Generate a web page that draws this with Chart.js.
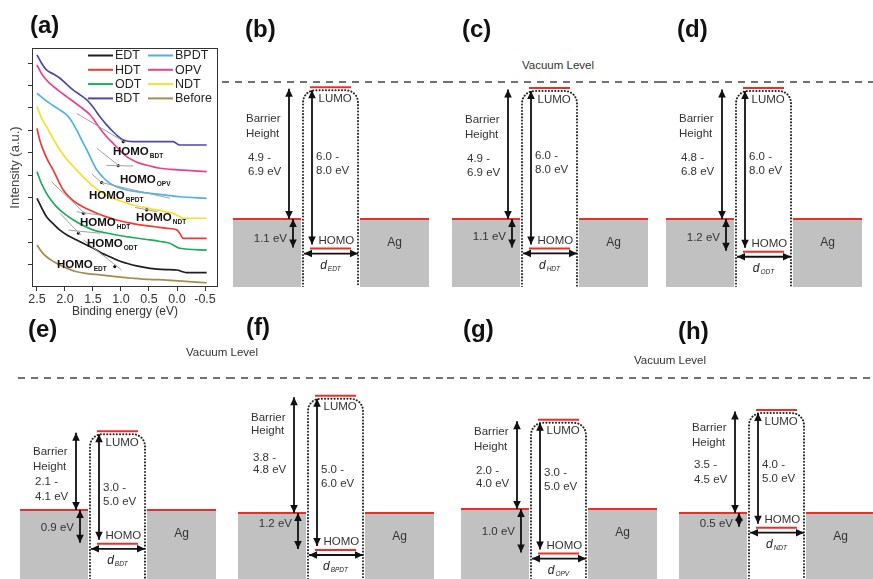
<!DOCTYPE html>
<html>
<head>
<meta charset="utf-8">
<title>Photoemission spectra and energy level alignment of Ag/molecule/Ag junctions</title>
<script src="https://cdn.jsdelivr.net/npm/chart.js@4.4.1/dist/chart.umd.min.js"></script>
<style>
  html, body { margin: 0; padding: 0; background: #fff; }
  body { position: relative; width: 873px; height: 579px; overflow: hidden;
         font-family: "Liberation Sans", Arial, Helvetica, sans-serif; }
  .tag { position: absolute; font-weight: bold; font-size: 24px; line-height: 24px; color: #111; }
  .vac { position: absolute; font-size: 11.5px; line-height: 12px; color: #333; white-space: nowrap;
         transform: translateX(-50%); }
  canvas { position: absolute; }
</style>
</head>
<body>
<canvas id="spectra" width="225" height="322" style="left:0;top:0"></canvas>

<div class="tag" style="left:30px;top:13px">(a)</div>
<div class="tag" style="left:245px;top:17px">(b)</div>
<div class="tag" style="left:462px;top:17px">(c)</div>
<div class="tag" style="left:677px;top:17px">(d)</div>
<div class="tag" style="left:28px;top:317px">(e)</div>
<div class="tag" style="left:246px;top:315px">(f)</div>
<div class="tag" style="left:463px;top:317px">(g)</div>
<div class="tag" style="left:678px;top:319px">(h)</div>

<div class="vac" style="left:558px;top:59px">Vacuum Level</div>
<div class="vac" style="left:222px;top:346px">Vacuum Level</div>
<div class="vac" style="left:670px;top:354px">Vacuum Level</div>

<script>
Chart.defaults.font.family = '"Liberation Sans", Arial, Helvetica, sans-serif';
Chart.defaults.color = '#333';
Chart.defaults.animation = false;

/* ---------- (a) UPS spectra near the Fermi edge: [binding energy (eV), intensity (a.u.)] ---------- */
const spectrumNames  = ['EDT', 'HDT', 'ODT', 'BDT', 'BPDT', 'OPV', 'NDT', 'Before'];
const spectrumColors = ['#1e1e1e', '#ee3b33', '#1dab5c', '#5048a8', '#4eb2e2', '#e8428e', '#f2e22c', '#a38e52'];

const edtSpectrum = [[2.50,3.96],[2.40,3.45],[2.33,3.14],[2.20,2.80],[2.09,2.54],[1.95,2.30],[1.79,2.10],[1.65,1.92],
  [1.49,1.73],[1.35,1.52],[1.20,1.35],[1.05,1.18],[0.90,1.06],[0.70,0.93],[0.48,0.83],[0.20,0.78],[0.00,0.76],
  [-0.10,0.68],[-0.17,0.64],[-0.53,0.64]];
const hdtSpectrum = [[2.50,7.08],[2.45,6.55],[2.39,6.12],[2.30,5.62],[2.21,5.22],[2.12,4.75],[2.03,4.33],[1.92,4.00],
  [1.79,3.74],[1.60,3.48],[1.43,3.29],[1.25,3.12],[1.08,2.99],[0.85,2.86],[0.66,2.77],[0.40,2.69],[0.18,2.62],
  [0.00,2.54],[-0.06,2.35],[-0.11,2.17],[-0.53,2.17]];
const odtSpectrum = [[2.50,5.15],[2.42,4.62],[2.33,4.18],[2.24,3.85],[2.15,3.58],[2.00,3.25],[1.85,2.99],[1.67,2.74],
  [1.49,2.54],[1.28,2.42],[1.08,2.32],[0.80,2.21],[0.48,2.10],[0.30,2.03],[0.13,1.95],[0.03,1.82],[-0.05,1.73],
  [-0.53,1.65]];
const bdtSpectrum = [[2.50,10.36],[2.42,10.00],[2.33,9.69],[2.20,9.50],[2.09,9.32],[1.97,9.05],[1.85,8.79],[1.73,8.58],
  [1.61,8.35],[1.49,8.00],[1.375,7.60],[1.26,7.25],[1.14,6.93],[1.05,6.72],[0.96,6.56],[0.78,6.49],[0.40,6.49],
  [0.07,6.49],[-0.05,6.34],[-0.53,6.34]];
const bpdtSpectrum = [[2.50,8.65],[2.38,8.40],[2.27,8.20],[2.12,7.95],[1.97,7.68],[1.88,7.40],[1.79,7.00],[1.70,6.55],
  [1.61,6.12],[1.52,5.65],[1.43,5.22],[1.32,4.90],[1.20,4.63],[1.05,4.45],[0.90,4.33],[0.70,4.25],[0.48,4.18],
  [0.20,4.10],[-0.05,4.03],[-0.53,3.96]];
const opvSpectrum = [[2.50,9.91],[2.40,9.45],[2.27,9.09],[2.12,8.78],[1.97,8.50],[1.85,8.28],[1.73,8.05],[1.64,7.88],
  [1.55,7.68],[1.46,7.38],[1.375,7.08],[1.26,6.72],[1.14,6.41],[1.02,6.10],[0.90,5.82],[0.78,5.65],[0.66,5.52],
  [0.48,5.40],[0.30,5.30],[0.10,5.25],[-0.11,5.22],[-0.53,5.15]];
const ndtSpectrum = [[2.50,8.05],[2.42,7.55],[2.33,7.16],[2.21,6.62],[2.09,6.12],[1.94,5.62],[1.79,5.22],[1.64,4.83],
  [1.49,4.48],[1.35,4.23],[1.20,4.03],[1.00,3.83],[0.78,3.66],[0.57,3.54],[0.36,3.44],[0.20,3.36],[0.07,3.29],
  [-0.02,3.18],[-0.11,3.07],[-0.53,3.07]];
const beforeSpectrum = [[2.50,1.875],[2.42,1.58],[2.33,1.35],[2.20,1.13],[2.09,0.98],[1.95,0.82],[1.79,0.68],[1.60,0.60],
  [1.375,0.54],[1.10,0.46],[0.78,0.39],[0.50,0.34],[0.18,0.31],[-0.15,0.25],[-0.53,0.19]];

const spectra = [edtSpectrum, hdtSpectrum, odtSpectrum, bdtSpectrum, bpdtSpectrum, opvSpectrum, ndtSpectrum, beforeSpectrum];

const energyTicks      = [2.5, 2.0, 1.5, 1.0, 0.5, 0.0, -0.5];
const energyTickLabels = ['2.5', '2.0', '1.5', '1.0', '0.5', '0.0', '-0.5'];
const intensityTicks   = [1, 2, 3, 4, 5, 6, 7, 8, 9, 10];

/* HOMO onsets read from the tangent intersections */
const homoNames           = ['BDT', 'OPV', 'BPDT', 'NDT', 'HDT', 'ODT', 'EDT'];
const homoOnsetEnergy     = [0.96, 1.05, 1.345, 0.54, 1.67, 1.76, 1.11];
const homoOnsetIntensity  = [6.49, 5.42, 4.66, 3.44, 3.29, 2.40, 0.91];
const homoTangents = [
  [[1.79, 7.75], [0.92, 6.45]],
  [[1.43, 6.19], [1.02, 5.38]], [[1.26, 5.43], [0.78, 5.40]],
  [[1.52, 5.05], [1.30, 4.55]], [[1.345, 4.66], [0.125, 3.96]],
  [[0.75, 3.55], [0.35, 3.36]],
  [[2.24, 4.70], [1.62, 3.22]], [[1.79, 3.36], [1.375, 3.21]],
  [[2.09, 3.29], [1.72, 2.33]], [[1.94, 2.54], [1.375, 2.40]],
  [[1.67, 2.10], [0.99, 0.76]]
];
/* where each HOMO label sits, in axis units (left edge, vertical centre) */
const homoLabelAnchor = {
  BDT: [1.143, 6.03], OPV: [1.018, 4.78], BPDT: [1.571, 4.06], NDT: [0.732, 3.08],
  HDT: [1.732, 2.86], ODT: [1.607, 1.92], EDT: [2.143, 0.98]
};

function drawSubscripted(ctx, main, sub, x, y, mainFont, subFont, align, subDrop) {
  ctx.font = mainFont; const w1 = ctx.measureText(main).width;
  ctx.font = subFont;  const w2 = ctx.measureText(sub).width;
  const x0 = align === 'center' ? x - (w1 + w2 + 1) / 2 : x;
  ctx.textAlign = 'left'; ctx.textBaseline = 'middle';
  ctx.font = mainFont; ctx.fillText(main, x0, y);
  ctx.font = subFont;  ctx.fillText(sub, x0 + w1 + 1, y + subDrop);
}

const framePlugin = {
  id: 'frame',
  afterDraw(chart) {
    const { ctx, chartArea: a } = chart;
    ctx.save(); ctx.strokeStyle = '#333'; ctx.lineWidth = 1;
    ctx.strokeRect(a.left + 0.5, a.top + 0.5, a.right - a.left - 1, a.bottom - a.top - 1);
    ctx.restore();
  }
};

const spectraLegend = {
  id: 'spectraLegend',
  afterDraw(chart) {
    const { ctx, chartArea: a } = chart;
    const columns = [['EDT', 'HDT', 'ODT', 'BDT'], ['BPDT', 'OPV', 'NDT', 'Before']];
    ctx.save();
    ctx.font = '12.5px "Liberation Sans", Arial'; ctx.textBaseline = 'middle'; ctx.textAlign = 'left';
    columns.forEach((names, c) => names.forEach((name, r) => {
      const x0 = a.left + 56 + c * 60, y = a.top + 7.5 + r * 14.3;
      ctx.strokeStyle = spectrumColors[spectrumNames.indexOf(name)]; ctx.lineWidth = 2;
      ctx.beginPath(); ctx.moveTo(x0, y); ctx.lineTo(x0 + 25, y); ctx.stroke();
      ctx.fillStyle = '#222'; ctx.fillText(name, x0 + 27, y + 0.5);
    }));
    ctx.restore();
  }
};

const homoLabels = {
  id: 'homoLabels',
  afterDraw(chart) {
    const { ctx, scales } = chart;
    ctx.save(); ctx.fillStyle = '#111';
    homoNames.forEach(name => {
      const [ex, iy] = homoLabelAnchor[name];
      drawSubscripted(ctx, 'HOMO', name, scales.x.getPixelForValue(ex), scales.y.getPixelForValue(iy),
        'bold 11.5px "Liberation Sans", Arial', 'bold 6.5px "Liberation Sans", Arial', 'left', 4);
    });
    ctx.restore();
  }
};

const spectraDatasets = [];
homoTangents.forEach(seg => spectraDatasets.push({
  data: seg.map(([x, y]) => ({ x, y })), borderColor: '#a0a0a0', borderWidth: 1, pointRadius: 0, tension: 0
}));
spectraDatasets.push({
  data: homoOnsetEnergy.map((x, k) => ({ x, y: homoOnsetIntensity[k] })), showLine: false,
  pointRadius: 1.6, pointBackgroundColor: '#111', pointBorderWidth: 0
});
spectra.forEach((curve, k) => spectraDatasets.push({
  label: spectrumNames[k], data: curve.map(([x, y]) => ({ x, y })),
  borderColor: spectrumColors[k], borderWidth: 1.7, pointRadius: 0, cubicInterpolationMode: 'monotone'
}));

new Chart(document.getElementById('spectra'), {
  type: 'line',
  data: { datasets: spectraDatasets },
  options: {
    responsive: false, animation: false, devicePixelRatio: 1,
    layout: { padding: { top: 48, right: 7, left: 0, bottom: 0 } },
    plugins: { legend: { display: false }, tooltip: { enabled: false } },
    scales: {
      x: {
        type: 'linear', reverse: true, min: -0.732, max: 2.589,
        afterBuildTicks: s => { s.ticks = energyTicks.map(v => ({ value: v })); },
        afterFit: s => { s.height = 35; },
        ticks: { callback: v => energyTickLabels[energyTicks.indexOf(v)], font: { size: 12.5 }, color: '#333',
                 padding: 1, maxRotation: 0, autoSkip: false },
        grid: { drawOnChartArea: false, tickLength: 4, color: '#333' },
        border: { display: false },
        title: { display: true, text: 'Binding energy (eV)', font: { size: 12 }, color: '#333', padding: { top: 0, bottom: 3 } }
      },
      y: {
        type: 'linear', min: 0, max: 10.67,
        afterBuildTicks: s => { s.ticks = intensityTicks.map(v => ({ value: v })); },
        afterFit: s => { s.width = 32; },
        ticks: { display: false },
        grid: { drawOnChartArea: false, tickLength: 4, color: '#333' },
        border: { display: false },
        title: { display: true, text: 'Intensity (a.u.)', font: { size: 13 }, color: '#444', padding: { top: 8, bottom: 0 } }
      }
    }
  },
  plugins: [framePlugin, spectraLegend, homoLabels]
});

/* ---------- (b)-(h) energy level diagrams, energies in eV relative to the Ag Fermi level ---------- */
const moleculeNames = ['EDT', 'HDT', 'ODT', 'BDT', 'BPDT', 'OPV', 'NDT'];
const homoOffset    = [1.1, 1.1, 1.2, 0.9, 1.2, 1.0, 0.5];   // E_F - E_HOMO
const barrierMin    = [4.9, 4.9, 4.8, 2.1, 3.8, 2.0, 3.5];   // E_LUMO - E_F
const barrierMax    = [6.9, 6.9, 6.8, 4.1, 4.8, 4.0, 4.5];
const gapMin        = [6.0, 6.0, 6.0, 3.0, 5.0, 3.0, 4.0];   // HOMO-LUMO gap
const gapMax        = [8.0, 8.0, 8.0, 5.0, 6.0, 5.0, 5.0];

/* shared drawing template, horizontal units are px from the left electrode edge */
const template = {
  agLeft: [0, 68], agRight: [127, 196], molecule: [70, 125], levelBar: [77, 118],
  barrierX: 56, offsetX: 60, gapX: 79, textLeft: 13, valueLeft: 15, offsetRight: 54,
  gapTextLeft: 83, orbitalTextLeft: 85.5, cornerRadius: 12
};
const diagramRows = [
  { top: 40, height: 247, vacuumPx: 82 },
  { top: 336, height: 243, vacuumPx: 378 }
];
const diagramLayout = [
  { row: 0, left: 222, right: 446, origin: 233, fermiPx: 219, pxPerEV: 26.87, barrierDy: [-34, -19, 5, 19], gapDy: -11, offsetDy: 5 },
  { row: 0, left: 446, right: 660, origin: 452, fermiPx: 219, pxPerEV: 26.72, barrierDy: [-34, -19, 5, 19], gapDy: -12, offsetDy: 3 },
  { row: 0, left: 660, right: 873, origin: 666, fermiPx: 219, pxPerEV: 27.30, barrierDy: [-35, -20, 4, 18], gapDy: -13, offsetDy: 2 },
  { row: 1, left: 18,  right: 228, origin: 20,  fermiPx: 510, pxPerEV: 37.53, barrierDy: [-18.5, -3.5, 11.5, 26.5], gapDy: 0, offsetDy: 1 },
  { row: 1, left: 228, right: 447, origin: 238, fermiPx: 513, pxPerEV: 30.84, barrierDy: [-37, -24, 3, 15], gapDy: -3, offsetDy: -8 },
  { row: 1, left: 447, right: 668, origin: 461, fermiPx: 509, pxPerEV: 44.60, barrierDy: [-33, -18, 6, 19], gapDy: -14, offsetDy: 1 },
  { row: 1, left: 668, right: 873, origin: 679, fermiPx: 513, pxPerEV: 29.40, barrierDy: [-33.5, -18.5, 3.5, 18.5], gapDy: -4, offsetDy: 3 }
];

function moleculeOutline(x0, x1, yTop, yBottom, rx, ry) {
  const pts = [{ x: x0, y: yBottom }, { x: x0, y: yTop - ry }];
  const n = 8;
  for (let k = 1; k <= n; k++) {
    const t = Math.PI - (Math.PI / 2) * k / n;
    pts.push({ x: x0 + rx + rx * Math.cos(t), y: yTop - ry + ry * Math.sin(t) });
  }
  for (let k = 0; k <= n; k++) {
    const t = Math.PI / 2 - (Math.PI / 2) * k / n;
    pts.push({ x: x1 - rx + rx * Math.cos(t), y: yTop - ry + ry * Math.sin(t) });
  }
  pts.push({ x: x1, y: yBottom });
  return pts;
}

function arrowHead(ctx, fromX, fromY, tipX, tipY) {
  const ang = Math.atan2(tipY - fromY, tipX - fromX), len = 8, half = 3.8;
  const bx = tipX - len * Math.cos(ang), by = tipY - len * Math.sin(ang);
  ctx.beginPath();
  ctx.moveTo(tipX, tipY);
  ctx.lineTo(bx + half * Math.sin(ang), by - half * Math.cos(ang));
  ctx.lineTo(bx - half * Math.sin(ang), by + half * Math.cos(ang));
  ctx.closePath(); ctx.fill();
}

const arrowHeads = {
  id: 'arrowHeads',
  afterDatasetsDraw(chart) {
    const ctx = chart.ctx;
    ctx.save(); ctx.fillStyle = '#111';
    chart.data.datasets.forEach((ds, k) => {
      if (!ds.doubleArrow) return;
      const pts = chart.getDatasetMeta(k).data;
      const a = pts[0], b = pts[pts.length - 1];
      arrowHead(ctx, b.x, b.y, a.x, a.y);
      arrowHead(ctx, a.x, a.y, b.x, b.y);
    });
    ctx.restore();
  }
};

const RED = '#e8302a', AG_GREY = '#c1c1c1', INK = '#111';

diagramLayout.forEach((L, i) => {
  const row = diagramRows[L.row];
  const cv = document.createElement('canvas');
  cv.width = L.right - L.left; cv.height = row.height;
  cv.style.left = L.left + 'px'; cv.style.top = row.top + 'px';
  document.body.appendChild(cv);

  const s = L.pxPerEV;
  const yMax = (L.fermiPx - row.top) / s;
  const yMin = -(row.top + row.height - L.fermiPx) / s;
  const xMin = L.left - L.origin, xMax = L.right - L.origin;

  const fermi = 0, lumo = barrierMin[i], homo = -homoOffset[i];
  const vacuum = (L.fermiPx - row.vacuumPx) / s;
  const dLevel = homo - 5 / s;
  const T = template;

  const line = (pts, extra) => Object.assign({ data: pts, pointRadius: 0, borderWidth: 1.8, borderColor: INK, fill: false, tension: 0 }, extra);

  const datasets = [
    line([{ x: T.barrierX, y: lumo - 1.5 / s }, { x: T.barrierX, y: fermi }], { doubleArrow: true }),
    line([{ x: T.offsetX, y: fermi }, { x: T.offsetX, y: homo + 1 / s }], { doubleArrow: true }),
    line([{ x: T.gapX, y: lumo - 3 / s }, { x: T.gapX, y: homo + 4 / s }], { doubleArrow: true }),
    line([{ x: T.molecule[0] + 1, y: dLevel }, { x: T.molecule[1], y: dLevel }], { doubleArrow: true }),
    line([{ x: T.levelBar[0], y: lumo }, { x: T.levelBar[1], y: lumo }], { borderColor: RED, borderWidth: 2 }),
    line([{ x: T.levelBar[0], y: homo }, { x: T.levelBar[1], y: homo }], { borderColor: RED, borderWidth: 2 }),
    line(moleculeOutline(T.molecule[0], T.molecule[1], lumo - 3 / s, yMin, T.cornerRadius, T.cornerRadius / s),
      { borderColor: '#222', borderWidth: 2, borderDash: [0.1, 3.1], borderCapStyle: 'round' }),
    line([{ x: xMin, y: vacuum }, { x: xMax, y: vacuum }], { borderColor: '#444', borderWidth: 1.5, borderDash: [7, 6] }),
    line([{ x: T.agLeft[0], y: fermi }, { x: T.agLeft[1], y: fermi }], { borderColor: RED, borderWidth: 2, backgroundColor: AG_GREY, fill: 'start' }),
    line([{ x: T.agRight[0], y: fermi }, { x: T.agRight[1], y: fermi }], { borderColor: RED, borderWidth: 2, backgroundColor: AG_GREY, fill: 'start' })
  ];

  const labels = {
    id: 'energyLabels',
    afterDraw(chart) {
      const { ctx } = chart;
      const X = v => chart.scales.x.getPixelForValue(v);
      const Y = v => chart.scales.y.getPixelForValue(v);
      const fPx = Y(fermi), lPx = Y(lumo), hPx = Y(homo), dPx = Y(dLevel);
      const font = '11.5px "Liberation Sans", Arial';
      ctx.save();
      ctx.fillStyle = '#333'; ctx.font = font; ctx.textBaseline = 'middle';

      const bMid = (fPx + lPx) / 2;
      ctx.textAlign = 'left';
      ctx.fillText('Barrier', X(T.textLeft), bMid + L.barrierDy[0]);
      ctx.fillText('Height', X(T.textLeft), bMid + L.barrierDy[1]);
      ctx.fillText(barrierMin[i].toFixed(1) + ' -', X(T.valueLeft), bMid + L.barrierDy[2]);
      ctx.fillText(barrierMax[i].toFixed(1) + ' eV', X(T.valueLeft), bMid + L.barrierDy[3]);

      const gMid = (lPx + hPx) / 2;
      ctx.fillText(gapMin[i].toFixed(1) + ' -', X(T.gapTextLeft), gMid + L.gapDy);
      ctx.fillText(gapMax[i].toFixed(1) + ' eV', X(T.gapTextLeft), gMid + L.gapDy + 14);

      ctx.textAlign = 'right';
      ctx.fillText(homoOffset[i].toFixed(1) + ' eV', X(T.offsetRight), (fPx + hPx) / 2 + L.offsetDy);

      ctx.textAlign = 'left';
      ctx.fillText('LUMO', X(T.orbitalTextLeft), lPx + 11.5);
      ctx.fillText('HOMO', X(T.orbitalTextLeft), hPx - 8);

      ctx.textAlign = 'center';
      ctx.font = '12px "Liberation Sans", Arial';
      ctx.fillText('Ag', X((T.agRight[0] + T.agRight[1]) / 2), fPx + 24);

      ctx.fillStyle = '#222';
      drawSubscripted(ctx, 'd', moleculeNames[i], X((T.molecule[0] + T.molecule[1]) / 2), dPx + 12,
        'italic 12px "Liberation Sans", Arial', 'italic 6.5px "Liberation Sans", Arial', 'center', 3.5);
      ctx.restore();
    }
  };

  new Chart(cv, {
    type: 'line',
    data: { datasets },
    options: {
      responsive: false, animation: false, devicePixelRatio: 1,
      layout: { padding: 0 },
      plugins: { legend: { display: false }, tooltip: { enabled: false } },
      scales: {
        x: { type: 'linear', display: false, min: xMin, max: xMax },
        y: { type: 'linear', display: false, min: yMin, max: yMax }
      }
    },
    plugins: [arrowHeads, labels]
  });
});
</script>
</body>
</html>
